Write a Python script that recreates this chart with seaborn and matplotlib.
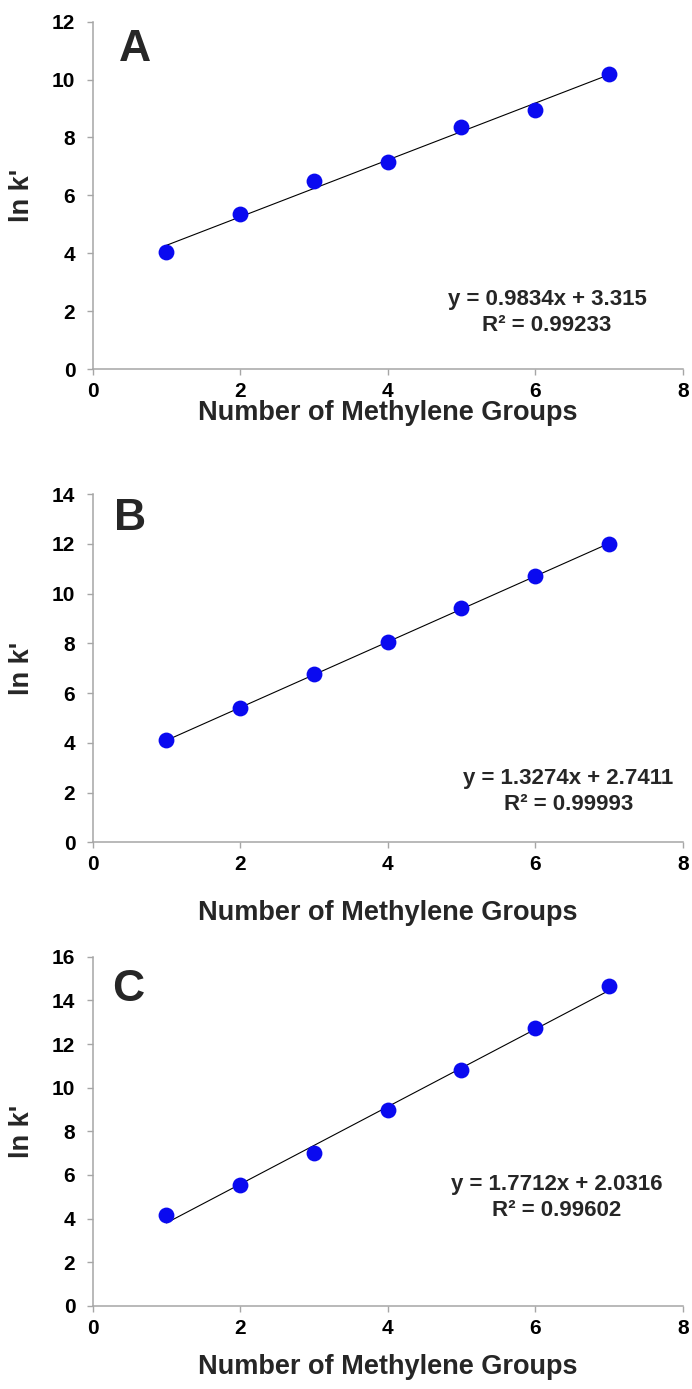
import numpy as np
import pandas as pd
import matplotlib
matplotlib.use("Agg")
import matplotlib.pyplot as plt
import seaborn as sns

# ---- data ----
methylene = [1, 2, 3, 4, 5, 6, 7]
lnk_A = [4.05, 5.35, 6.50, 7.15, 8.35, 8.95, 10.20]
lnk_B = [4.10, 5.40, 6.75, 8.05, 9.40, 10.70, 12.00]
lnk_C = [4.15, 5.55, 7.00, 9.00, 10.80, 12.75, 14.65]
panel_letters = ["A", "B", "C"]
equations = ["y = 0.9834x + 3.315\nR² = 0.99233",
             "y = 1.3274x + 2.7411\nR² = 0.99993",
             "y = 1.7712x + 2.0316\nR² = 0.99602"]
y_limits = [12, 14, 16]
x_ticks = [0, 2, 4, 6, 8]
x_label = "Number of Methylene Groups"
y_label = "ln k'"

sns.set_style("ticks")
plt.rcParams['font.family'] = ['Liberation Sans', 'DejaVu Sans']
plt.rcParams['font.weight'] = 'bold'

fig = plt.figure(figsize=(6.92, 13.89), dpi=100)

axes_pos = [
    [0.134, 0.7343, 0.8526, 0.2501],
    [0.134, 0.3936, 0.8526, 0.2507],
    [0.134, 0.0598, 0.8526, 0.2514],
]
letter_pos = [(0.072, 0.92), (0.064, 0.93), (0.060, 0.905)]
eq_pos = [(0.770, 0.163), (0.806, 0.146), (0.787, 0.311)]
xlabel_y = [-0.089, -0.166, -0.137]

series = [lnk_A, lnk_B, lnk_C]
spine_col = "#a6a6a6"

for i, vals in enumerate(series):
    ax = fig.add_axes(axes_pos[i])
    df = pd.DataFrame({"n": methylene, "lnk": vals})
    sns.regplot(data=df, x="n", y="lnk", scatter=False, ci=None, ax=ax,
                line_kws=dict(color="black", lw=0.8), truncate=True)
    sns.scatterplot(data=df, x="n", y="lnk", ax=ax, s=130, color="#0a0af0",
                    edgecolor="#0a0af0", linewidth=0, zorder=3)
    ax.set_xlim(0, 8)
    ax.set_ylim(0, y_limits[i])
    ax.set_xticks(x_ticks)
    ax.set_yticks(np.arange(0, y_limits[i] + 1, 2))
    for s in ["top", "right"]:
        ax.spines[s].set_visible(False)
    for s in ["left", "bottom"]:
        ax.spines[s].set_color(spine_col)
        ax.spines[s].set_linewidth(1.1)
    ax.tick_params(axis="both", colors=spine_col, labelcolor="black",
                   length=4.5, width=1.0, labelsize=15)
    ax.tick_params(axis="x", pad=5)
    ax.tick_params(axis="y", pad=8)
    for lab in ax.get_xticklabels() + ax.get_yticklabels():
        lab.set_fontweight("bold")
    ax.set_xlabel(x_label, fontsize=19.5, fontweight="bold")
    ax.set_ylabel(y_label, fontsize=19.5, fontweight="bold")
    ax.xaxis.set_label_coords(0.5, xlabel_y[i])
    ax.yaxis.set_label_coords(-0.098, 0.5)
    ax.text(letter_pos[i][0], letter_pos[i][1], panel_letters[i],
            transform=ax.transAxes, fontsize=32, fontweight="bold",
            ha="center", va="center")
    ax.text(eq_pos[i][0], eq_pos[i][1], equations[i], transform=ax.transAxes,
            fontsize=16, fontweight="bold", ha="center", va="center",
            multialignment="center", linespacing=1.3)

fig.savefig("out.png", dpi=100)
